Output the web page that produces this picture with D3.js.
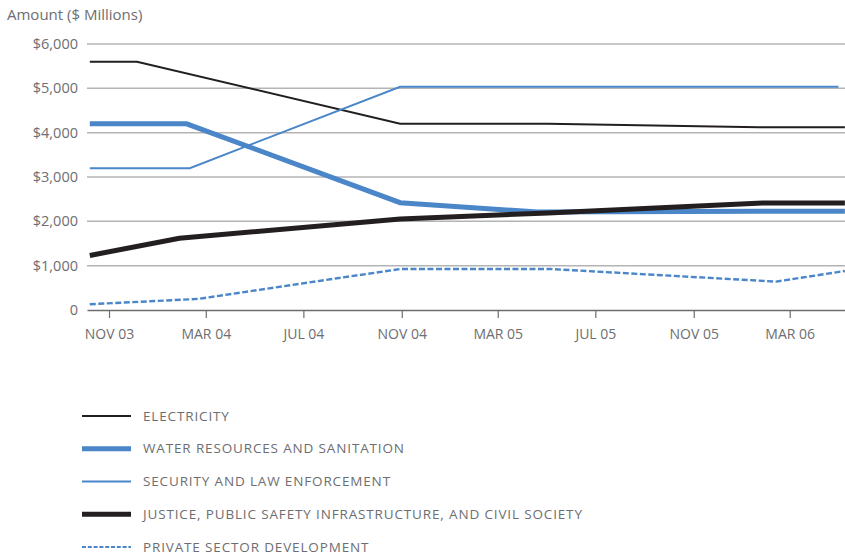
<!DOCTYPE html>
<html><head><meta charset="utf-8">
<script src="https://cdn.jsdelivr.net/npm/d3@7"></script>
<style>
body{margin:0;background:#fff;}
svg text{font-family:"Open Sans","Noto Sans",sans-serif;fill:#6d6e71;}
</style></head>
<body><svg id="c" width="845" height="559"></svg>
<script>
// ---- data ----
const yTicks = [0, 1000, 2000, 3000, 4000, 5000, 6000];
const xTickDates = ["2003-11-01","2004-03-01","2004-07-01","2004-11-01","2005-03-01","2005-07-01","2005-11-01","2006-03-01"];
const xTickLabels = ["NOV 03","MAR 04","JUL 04","NOV 04","MAR 05","JUL 05","NOV 05","MAR 06"];

const seriesNames = ["ELECTRICITY","WATER RESOURCES AND SANITATION","SECURITY AND LAW ENFORCEMENT","JUSTICE, PUBLIC SAFETY INFRASTRUCTURE, AND CIVIL SOCIETY","PRIVATE SECTOR DEVELOPMENT"];

const electricityDates = ["2003-10-08","2003-12-06","2004-10-30","2005-05-03","2006-01-22","2006-05-09"];
const electricityValues = [5600, 5600, 4200, 4200, 4120, 4120];

const waterDates = ["2003-10-08","2004-02-06","2004-10-30","2005-04-20","2006-01-22","2006-05-09"];
const waterValues = [4200, 4200, 2420, 2210, 2225, 2225];

const securityDates = ["2003-10-08","2004-02-10","2004-10-30","2006-05-01"];
const securityValues = [3200, 3200, 5035, 5035];

const justiceDates = ["2003-10-08","2004-01-28","2004-10-30","2005-05-03","2006-01-26","2006-05-09"];
const justiceValues = [1230, 1620, 2050, 2190, 2415, 2415];

const privateDates = ["2003-10-08","2004-02-20","2004-10-30","2005-05-06","2006-02-12","2006-05-09"];
const privateValues = [130, 250, 925, 925, 640, 880];

// ---- chart ----
const parse = d3.timeParse("%Y-%m-%d");
const svg = d3.select("#c");
const blue = "#4a86c8", black = "#231f20";

const x0 = d3.scaleTime().domain([parse("2003-11-01"), parse("2006-03-01")]).range([109, 789.7]);
const x = d3.scaleTime().domain([x0.invert(87), x0.invert(845)]).range([87, 845]);
const y = d3.scaleLinear().domain([0, 6000]).range([310, 44]);

// gridlines
svg.append("g").selectAll("line").data(yTicks.filter(d => d > 0)).join("line")
  .attr("x1", 87).attr("x2", 845)
  .attr("y1", d => y(d)).attr("y2", d => y(d))
  .attr("stroke", "#b4b4b4").attr("stroke-width", 1.5);

// y labels
svg.append("g").selectAll("text").data(yTicks).join("text")
  .attr("x", 78).attr("y", d => y(d)).attr("dy", "0.35em")
  .attr("text-anchor", "end").attr("font-size", 14.5)
  .text(d => d === 0 ? "0" : "$" + d3.format(",")(d));

// title
svg.append("text").attr("x", 7).attr("y", 20).attr("font-size", 15).text("Amount ($ Millions)");

// x axis
const xAxis = d3.axisBottom(x)
  .tickValues(xTickDates.map(parse))
  .tickFormat((d, i) => xTickLabels[i])
  .tickSize(8).tickSizeOuter(0);
const gx = svg.append("g").attr("transform", "translate(0,310)").call(xAxis);
gx.select(".domain").attr("stroke", "#6d6d6d").attr("stroke-width", 1.5);
gx.selectAll(".tick line").attr("stroke", "#6d6d6d").attr("stroke-width", 1.2);
gx.selectAll(".tick text").attr("font-size", 14).attr("dy", "1.25em").attr("fill", "#6d6e71")
  .style("font-family", '"Open Sans","Noto Sans",sans-serif');

// lines
const series = [
  {name: seriesNames[0], dates: electricityDates, values: electricityValues, color: black, width: 2, dash: null},
  {name: seriesNames[1], dates: waterDates, values: waterValues, color: blue, width: 5, dash: null},
  {name: seriesNames[2], dates: securityDates, values: securityValues, color: blue, width: 2, dash: null},
  {name: seriesNames[3], dates: justiceDates, values: justiceValues, color: black, width: 5, dash: null},
  {name: seriesNames[4], dates: privateDates, values: privateValues, color: blue, width: 2.4, dash: "6,2.5"}
];
const line = d3.line().x(d => x(d[0])).y(d => y(d[1]));
svg.append("g").selectAll("path").data(series).join("path")
  .attr("d", s => line(s.dates.map((d, i) => [parse(d), s.values[i]])))
  .attr("fill", "none").attr("stroke", s => s.color)
  .attr("stroke-width", s => s.width)
  .attr("stroke-dasharray", s => s.dash)
  .attr("stroke-linejoin", "miter");

// legend
const lg = svg.append("g").selectAll("g").data(series).join("g")
  .attr("transform", (d, i) => `translate(0,${416 + i * 32.75})`);
lg.append("line").attr("x1", 82).attr("x2", 131).attr("y1", 0).attr("y2", 0)
  .attr("stroke", d => d.color).attr("stroke-width", d => d.dash ? 2 : d.width)
  .attr("stroke-dasharray", d => d.dash ? "4,1.8" : null);
lg.append("text").attr("x", 143).attr("y", 0).attr("dy", "0.35em")
  .attr("font-size", 13.5).attr("letter-spacing", 0.85).attr("fill", "#4d4d4f")
  .text(d => d.name);
</script></body></html>
